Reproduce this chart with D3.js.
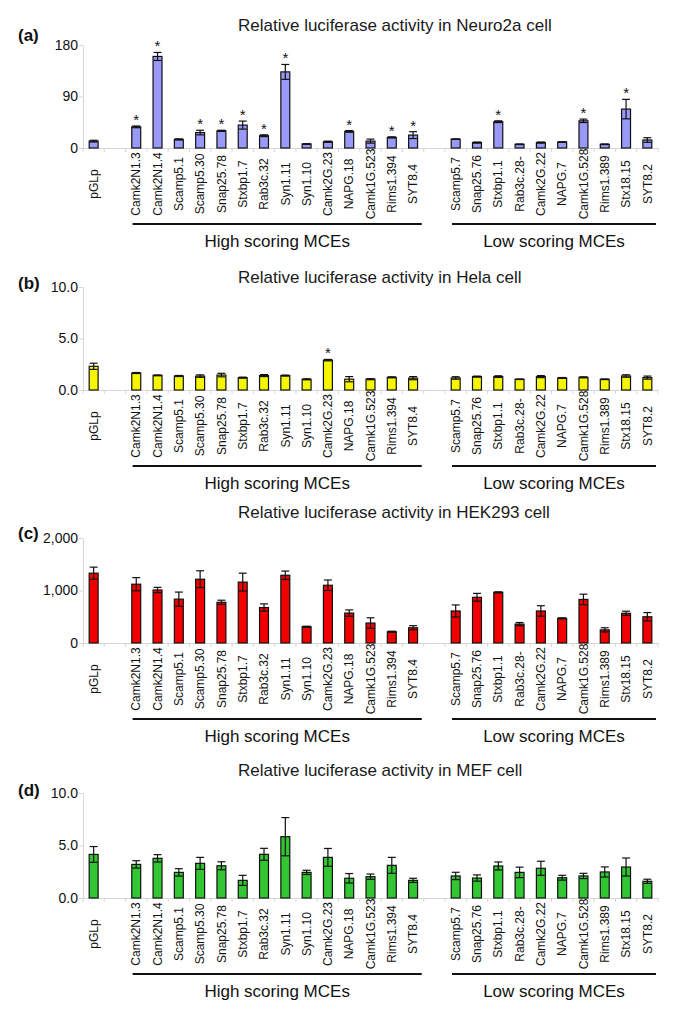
<!DOCTYPE html>
<html><head><meta charset="utf-8">
<script src="https://cdn.jsdelivr.net/npm/d3@7"></script>
<style>
html,body{margin:0;padding:0;background:#fff;}
svg{display:block;font-family:"Liberation Sans",Arial,Helvetica,sans-serif;}
</style></head>
<body>
<script>
// ---------------- DATA ----------------
const controlLabel = "pGLp";
const highLabels = ["Camk2N1.3","Camk2N1.4","Scamp5.1","Scamp5.30","Snap25.78","Stxbp1.7","Rab3c.32","Syn1.11","Syn1.10","Camk2G.23","NAPG.18","Camk1G.523","Rims1.394","SYT8.4"];
const lowLabels = ["Scamp5.7","Snap25.76","Stxbp1.1","Rab3c.28-","Camk2G.22","NAPG.7","Camk1G.528","Rims1.389","Stx18.15","SYT8.2"];
const groupNames = ["High scoring MCEs","Low scoring MCEs"];

const titles = ["Relative luciferase activity in Neuro2a cell","Relative luciferase activity in Hela cell","Relative luciferase activity in HEK293 cell","Relative luciferase activity in MEF cell"];
const panelLetters = ["(a)","(b)","(c)","(d)"];

// values in order: pGLp, high..., low...
const neuroValues = [12, 37,160,15,27,30,40,21.5,133,7,11,29,12,18.5,22.5, 15.5,9.5,46,6.5,9.5,10.5,47.5,6.5,68,14];
const neuroErrors = [1.5, 1.5,7,1,4,1,7,1.5,13,0.5,1,1.5,3.5,1,6, 0.3,1,1.5,0.5,1,0.3,3,0.5,17,4];
const neuroStars = ["Camk2N1.3","Camk2N1.4","Scamp5.30","Snap25.78","Stxbp1.7","Rab3c.32","Syn1.11","NAPG.18","Rims1.394","SYT8.4","Stxbp1.1","Camk1G.528","Stx18.15"];

const helaValues = [2.3, 1.65,1.42,1.36,1.35,1.45,1.2,1.4,1.4,1.04,2.9,1.05,1.05,1.23,1.15, 1.17,1.3,1.3,1.04,1.3,1.17,1.23,1.04,1.36,1.2];
const helaErrors = [0.3, 0.05,0.04,0.05,0.12,0.17,0.05,0.1,0.05,0.05,0.07,0.25,0.05,0.05,0.15, 0.12,0.05,0.08,0.02,0.1,0.04,0.05,0.03,0.12,0.15];
const helaStars = ["Camk2G.23"];

const hekValues = [1330, 1120,1010,835,1215,775,1160,675,1290,310,1100,570,380,215,290, 610,870,965,360,610,470,830,250,566,500];
const hekErrors = [115, 125,50,135,160,40,170,70,80,10,100,60,100,10,40, 115,75,10,30,100,10,100,40,40,80];
const hekStars = [];

const mefValues = [4.15, 3.2,3.78,2.44,3.3,3.07,1.68,4.16,5.84,2.44,3.87,1.88,2.03,3.11,1.68, 2.1,1.9,3.05,2.44,2.83,1.93,2.1,2.48,2.95,1.59];
const mefErrors = [0.75, 0.35,0.35,0.35,0.57,0.38,0.48,0.57,1.82,0.2,0.85,0.45,0.25,0.76,0.2, 0.35,0.3,0.38,0.5,0.67,0.23,0.25,0.48,0.86,0.2];
const mefStars = [];

const yTicksNeuro = [0,90,180];
const yTicksHela = [0,5,10];
const yTicksHek = [0,1000,2000];
const yTicksMef = [0,5,10];

// ---------------- LAYOUT ----------------
const W = 685, H = 1019;
const categories = [controlLabel, ...highLabels, ...lowLabels];
const slots = [controlLabel, "__gap1", ...highLabels, "__gap2", ...lowLabels];

const panels = [
  {values: neuroValues, errors: neuroErrors, stars: neuroStars, ticks: yTicksNeuro, fmt: d3.format("d"), color: "#9999f8", zero: 148, top: 45, titleY: 31, letterY: 41},
  {values: helaValues, errors: helaErrors, stars: helaStars, ticks: yTicksHela, fmt: d3.format(".1f"), color: "#f6f600", zero: 390, top: 287, titleY: 283, letterY: 289},
  {values: hekValues, errors: hekErrors, stars: hekStars, ticks: yTicksHek, fmt: d3.format(","), color: "#f20000", zero: 643, top: 538, titleY: 518, letterY: 539},
  {values: mefValues, errors: mefErrors, stars: mefStars, ticks: yTicksMef, fmt: d3.format(".1f"), color: "#33c633", zero: 898, top: 793, titleY: 776, letterY: 796}
];

const svg = d3.select("body").append("svg").attr("width", W).attr("height", H);
svg.append("rect").attr("width", W).attr("height", H).attr("fill", "#fff");

const pIn = 0.58;
const x = d3.scaleBand().domain(slots).range([83, 658]).paddingInner(pIn).paddingOuter(pIn/2);
const step = x.step(), bw = x.bandwidth();
const cx = d => x(d) + bw/2;
const capW = bw - 1;

panels.forEach((p, i) => {
  const g = svg.append("g");
  const y = d3.scaleLinear().domain([0, p.ticks[p.ticks.length-1]]).range([p.zero, p.top]);

  // title and letter
  g.append("text").attr("x", 238).attr("y", p.titleY).attr("font-size", 17).attr("fill", "#1a1a1a").text(titles[i]);
  g.append("text").attr("x", 18).attr("y", p.letterY).attr("font-size", 17).attr("font-weight", "bold").attr("fill", "#111").text(panelLetters[i]);

  // y axis
  const ya = g.append("g").attr("transform", `translate(83,0)`)
    .call(d3.axisLeft(y).tickValues(p.ticks).tickFormat(p.fmt).tickSize(4).tickSizeOuter(0).tickPadding(1));
  ya.select(".domain").attr("stroke", "#d6d6d6");
  ya.selectAll(".tick line").attr("stroke", "#d6d6d6");
  ya.selectAll(".tick text").attr("font-size", 14).attr("fill", "#111").attr("font-family", "Liberation Sans, Arial, sans-serif");

  // x axis baseline and labels
  const xa = g.append("g").attr("transform", `translate(0,${p.zero})`)
    .call(d3.axisBottom(x).tickSize(0).tickSizeOuter(0).tickFormat(d => d.startsWith("__") ? "" : d));
  xa.select(".domain").attr("stroke", "#d6d6d6");
  xa.selectAll(".tick text")
    .attr("font-size", 12).attr("fill", "#111").attr("font-family", "Liberation Sans, Arial, sans-serif")
    .attr("text-anchor", "middle")
    .attr("transform", "rotate(-90)")
    .attr("x", -36).attr("y", 0).attr("dy", "0.35em");
  const bounds = slots.map(s => x(s) - step*pIn/2).concat([x(slots[slots.length-1]) + bw + step*pIn/2]);
  g.append("g").selectAll("line").data(bounds).join("line")
    .attr("x1", d => d).attr("x2", d => d).attr("y1", p.zero).attr("y2", p.zero + 4)
    .attr("stroke", "#d6d6d6").attr("stroke-width", 1);

  // bars
  const data = categories.map((c, k) => ({c, v: p.values[k], e: p.errors[k]}));
  g.append("g").selectAll("rect").data(data).join("rect")
    .attr("x", d => x(d.c)).attr("width", bw)
    .attr("y", d => y(d.v)).attr("height", d => y(0) - y(d.v))
    .attr("fill", p.color).attr("stroke", "#111").attr("stroke-width", 1.2);

  // error bars
  const eg = g.append("g").attr("stroke", "#111").attr("stroke-width", 1.2);
  eg.selectAll("line.v").data(data).join("line").attr("class", "v")
    .attr("x1", d => cx(d.c)).attr("x2", d => cx(d.c))
    .attr("y1", d => y(d.v + d.e)).attr("y2", d => y(Math.max(0, d.v - d.e)));
  eg.selectAll("line.t").data(data).join("line").attr("class", "t")
    .attr("x1", d => cx(d.c) - capW/2).attr("x2", d => cx(d.c) + capW/2)
    .attr("y1", d => y(d.v + d.e)).attr("y2", d => y(d.v + d.e));
  eg.selectAll("line.b").data(data).join("line").attr("class", "b")
    .attr("x1", d => cx(d.c) - capW/2).attr("x2", d => cx(d.c) + capW/2)
    .attr("y1", d => y(Math.max(0, d.v - d.e))).attr("y2", d => y(Math.max(0, d.v - d.e)));

  // significance stars
  g.append("g").selectAll("text").data(data.filter(d => p.stars.includes(d.c))).join("text")
    .attr("x", d => cx(d.c)).attr("y", d => y(d.v + d.e) - 1)
    .attr("text-anchor", "middle").attr("font-size", 15).attr("fill", "#111").text("*");

  // group lines and labels
  const groups = [highLabels, lowLabels];
  groups.forEach((grp, gi) => {
    const x1 = x(grp[0]) - step*pIn/2 + 7;
    const x2 = x(grp[grp.length-1]) + bw + step*pIn/2 - 2;
    g.append("line").attr("x1", x1).attr("x2", x2).attr("y1", p.zero + 76).attr("y2", p.zero + 76)
      .attr("stroke", "#111").attr("stroke-width", 1.8);
    g.append("text").attr("x", (x1 + x2)/2).attr("y", p.zero + 99).attr("text-anchor", "middle")
      .attr("font-size", 17).attr("fill", "#111").text(groupNames[gi]);
  });
});
</script>
</body></html>
